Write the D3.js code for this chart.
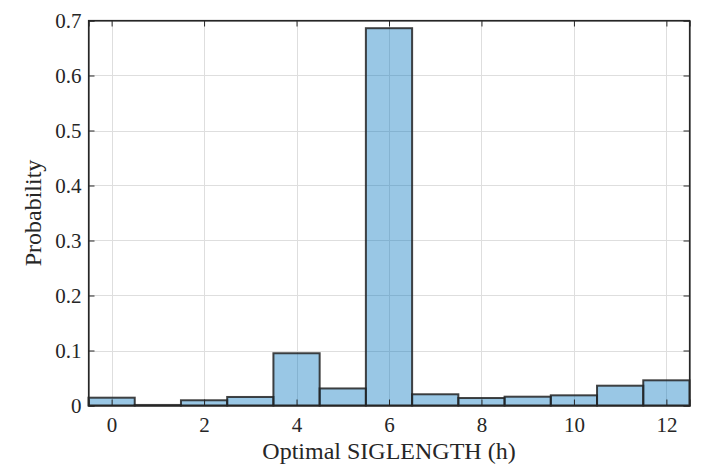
<!DOCTYPE html>
<html><head><meta charset="utf-8">
<script src="https://cdn.jsdelivr.net/npm/d3@7"></script>
<style>body{margin:0;background:#fff}svg{display:block}</style>
</head><body>
<svg id="c" width="702" height="466"></svg>
<script>
const binCenters = [0,1,2,3,4,5,6,7,8,9,10,11,12];
const probabilities = [0.0142,0.001,0.0095,0.0155,0.095,0.031,0.686,0.0204,0.0136,0.016,0.0185,0.036,0.0458];
const xTicks = [0,2,4,6,8,10,12];
const yTicks = [0,0.1,0.2,0.3,0.4,0.5,0.6,0.7];
const xLabel = "Optimal SIGLENGTH (h)";
const yLabel = "Probability";

const svg = d3.select("#c");
const L = 88.5, R = 689.5, T = 20.5, B = 405.5;
const x = d3.scaleLinear().domain([-0.5,12.5]).range([L,R]);
const y = d3.scaleLinear().domain([0,0.7]).range([B,T]);
const font = "'Liberation Serif','Times New Roman',serif";

// grid
const g = svg.append("g");
g.selectAll(".gx").data(xTicks).join("line")
  .attr("x1",d=>Math.round(x(d))+0.5).attr("x2",d=>Math.round(x(d))+0.5)
  .attr("y1",T).attr("y2",B).attr("stroke","#dedede").attr("stroke-width",1);
g.selectAll(".gy").data(yTicks).join("line")
  .attr("y1",d=>Math.round(y(d))+0.5).attr("y2",d=>Math.round(y(d))+0.5)
  .attr("x1",L).attr("x2",R).attr("stroke","#dedede").attr("stroke-width",1);

// bars
svg.append("g").selectAll("rect").data(binCenters).join("rect")
  .attr("x",d=>x(d-0.5)).attr("width",d=>x(d+0.5)-x(d-0.5))
  .attr("y",(d,i)=>y(probabilities[i])).attr("height",(d,i)=>B-y(probabilities[i]))
  .attr("fill","rgb(0,114,189)").attr("fill-opacity",0.4)
  .attr("stroke","#222").attr("stroke-opacity",0.85).attr("stroke-width",2);

// box
svg.append("rect").attr("x",L).attr("y",T).attr("width",R-L).attr("height",B-T)
  .attr("fill","none").attr("stroke","#262626").attr("stroke-width",1.2);

// axes (ticks inward)
const xa = svg.append("g").attr("transform",`translate(0,${B})`)
  .call(d3.axisBottom(x).tickValues(xTicks).tickSize(-6).tickPadding(12).tickFormat(d3.format("d")));
const xa2 = svg.append("g").attr("transform",`translate(0,${T})`)
  .call(d3.axisTop(x).tickValues(xTicks).tickSize(-6).tickFormat(""));
const ya = svg.append("g").attr("transform",`translate(${L},0)`)
  .call(d3.axisLeft(y).tickValues(yTicks).tickSize(-6).tickPadding(7).tickFormat(d=>d===0?"0":d3.format(".1f")(d)));
const ya2 = svg.append("g").attr("transform",`translate(${R},0)`)
  .call(d3.axisRight(y).tickValues(yTicks).tickSize(-6).tickFormat(""));
[xa,xa2,ya,ya2].forEach(a=>{
  a.attr("font-family",null).attr("font-size",null);
  a.select(".domain").attr("stroke","#262626").attr("stroke-width",1.2);
  a.selectAll(".tick line").attr("stroke","#262626");
  a.selectAll("text").style("font-family",font).style("font-size","21px").attr("fill","#262626");
});

svg.append("text").attr("x",(L+R)/2).attr("y",459).attr("text-anchor","middle")
  .style("font-family",font).style("font-size","24px").attr("fill","#262626").text(xLabel);
svg.append("text").attr("transform",`translate(41,${(T+B)/2}) rotate(-90)`).attr("text-anchor","middle")
  .style("font-family",font).style("font-size","24px").attr("fill","#262626").text(yLabel);
</script>
</body></html>
